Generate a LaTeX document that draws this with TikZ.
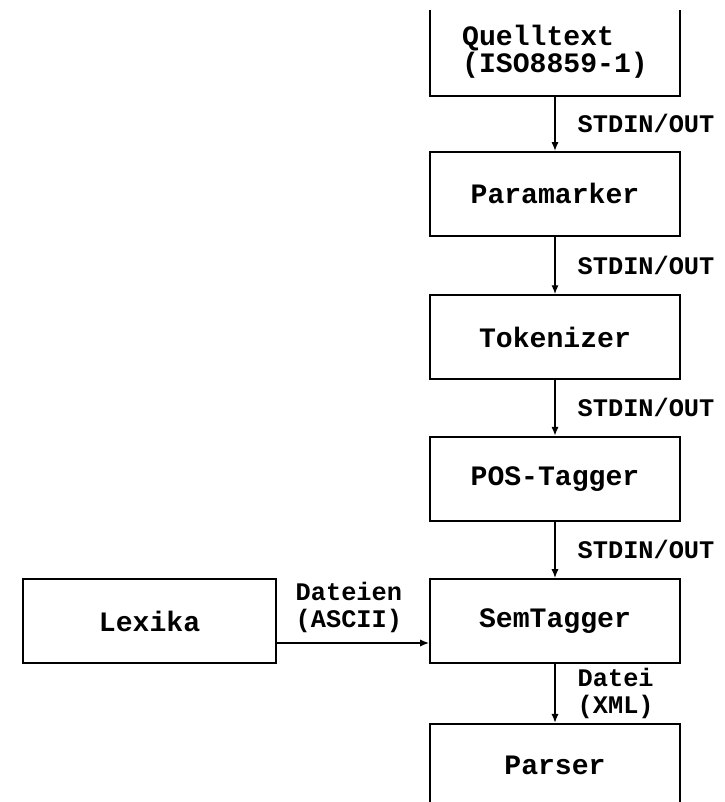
\documentclass[tikz,border=0pt]{standalone}
\usepackage{fontspec}
\setmonofont{Liberation Mono}
\usetikzlibrary{positioning,arrows.meta}

\begin{document}
\begin{tikzpicture}[
    node distance=1.41cm,
    box/.style={rectangle, draw, line width=1.4pt, minimum width=6.25cm,
                minimum height=2.1cm, align=left, inner sep=0pt,
                font=\ttfamily\bfseries\fontsize{20}{17.5}\selectfont},
    lbl/.style={font=\ttfamily\bfseries\fontsize{18}{19}\selectfont,
                align=left, inner sep=0pt},
    arr/.style={-{Latex[length=2.2mm,width=1.8mm]}, line width=1pt}
]
    \useasboundingbox (0,0) rectangle (18.125,20.05);
    \clip (0,0) rectangle (18.125,19.775);

    \node[box] (sem) at (13.875,4.525) {SemTagger};
    \node[box, above=of sem]  (pos)   {POS-Tagger};
    \node[box, above=1.39cm of pos]   (tok)   {Tokenizer};
    \node[box, above=1.43cm of tok]   (para)  {Paramarker};
    \node[box, above=1.35cm of para, minimum height=2.22cm] (quell) {Quelltext\\(ISO8859-1)};
    \node[box, below=1.47cm of sem]   (parser) {Parser};
    \node[box, left=3.8cm of sem, minimum width=6.325cm] (lex) {Lexika};

    \draw[arr] (quell) -- node[lbl, anchor=west, xshift=5.5mm] {STDIN/OUT} (para);
    \draw[arr] (para)  -- node[lbl, anchor=west, xshift=5.5mm] {STDIN/OUT} (tok);
    \draw[arr] (tok)   -- node[lbl, anchor=west, xshift=5.5mm] {STDIN/OUT} (pos);
    \draw[arr] (pos)   -- node[lbl, anchor=west, xshift=5.5mm] {STDIN/OUT} (sem);
    \draw[arr] (sem)   -- node[lbl, anchor=west, xshift=5.5mm] {Datei\\(XML)} (parser);
    \draw[arr] ([yshift=-5.5mm]lex.east) -- node[lbl, pos=0, anchor=south west,
        xshift=4.5mm, yshift=2.5mm] {Dateien\\(ASCII)} ([yshift=-5.5mm]sem.west);
\end{tikzpicture}
\end{document}
